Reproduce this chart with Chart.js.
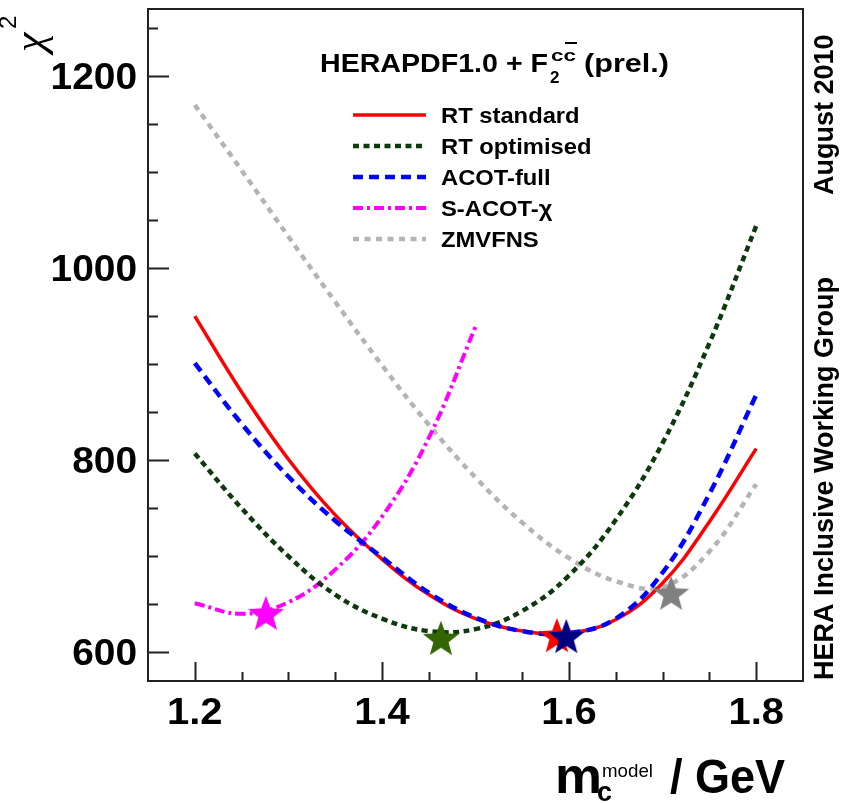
<!DOCTYPE html>
<html>
<head>
<meta charset="utf-8">
<title>HERAPDF1.0 chi2 vs charm mass</title>
<script src="https://cdn.jsdelivr.net/npm/chart.js@4.4.1/dist/chart.umd.min.js"></script>
<style>
  html, body { margin: 0; padding: 0; background: #fff; }
  #wrap { width: 842px; height: 803px; }
</style>
</head>
<body>
<div id="wrap"><canvas id="chi2Chart" width="842" height="803"></canvas></div>
<script>
const FONT = '"Liberation Sans", Arial, Helvetica, sans-serif';

// charm mass grid (GeV)
const mass = [1.2, 1.25, 1.3, 1.35, 1.4, 1.45, 1.5, 1.55, 1.6, 1.65, 1.7, 1.75, 1.8];
const rtStandard  = [950, 871, 801, 743, 697, 660, 635, 622, 620, 634, 672, 736, 812];
const rtOptimised = [807, 750, 700, 660, 635, 622, 624, 643, 680, 738, 818, 922, 1044];
const acotFull    = [901, 838, 783, 737, 699, 662, 636, 622, 620, 635, 683, 765, 868];
const zmvfns      = [1170, 1102, 1033, 965, 899, 837, 782, 735, 698, 674, 668, 705, 775];
// S-ACOT-chi only computed up to 1.5
const massSacot = [1.2, 1.25, 1.3, 1.35, 1.4, 1.45, 1.5];
const sacotChi  = [651, 640, 652, 686, 741, 823, 939];

// minima (stars)
const minLabels = ['ACOT-full', 'RT standard', 'RT optimised', 'S-ACOT-χ', 'ZMVFNS'];
const minMass   = [1.597, 1.587, 1.463, 1.276, 1.709];
const minChi2   = [616, 617, 614, 640, 661];

const xTicks = [1.2, 1.4, 1.6, 1.8];
const xTickLabels = ['1.2', '1.4', '1.6', '1.8'];
const yTicks = [600, 800, 1000, 1200];
const yTickLabels = ['600', '800', '1000', '1200'];

const pts = (xs, ys) => xs.map((x, i) => ({ x, y: ys[i] }));

function makeStar(fill, r) {
  const c = document.createElement('canvas');
  const s = Math.ceil(r * 2 + 2);
  c.width = s; c.height = s;
  const g = c.getContext('2d');
  g.fillStyle = fill;
  g.beginPath();
  for (let i = 0; i < 10; i++) {
    const rr = i % 2 ? r * 0.42 : r;
    const a = -Math.PI / 2 + i * Math.PI / 5;
    g.lineTo(s / 2 + rr * Math.cos(a), s / 2 + 1 + rr * Math.sin(a));
  }
  g.closePath();
  g.fill();
  return c;
}

const starColors = ['#000080', '#ff0000', '#336600', '#ff00ff', '#808080'];

const lineStyle = {
  'RT standard':  { color: '#ff0000', width: 3.5, dash: [] },
  'RT optimised': { color: '#0d3a0d', width: 4.5, dash: [6, 4.5] },
  'ACOT-full':    { color: '#0000ff', width: 4.5, dash: [10, 6] },
  'S-ACOT-χ':     { color: '#ff00ff', width: 4, dash: [10, 4, 3, 4] },
  'ZMVFNS':       { color: '#b4b4b4', width: 4.5, dash: [6, 5.5] }
};

function lineSet(label, xs, ys, order) {
  const st = lineStyle[label];
  return {
    label, order,
    data: pts(xs, ys),
    borderColor: st.color,
    borderWidth: st.width,
    borderDash: st.dash,
    borderCapStyle: 'butt',
    pointRadius: 0,
    tension: 0.4,
    fill: false
  };
}

const starSets = minLabels.map((l, i) => ({
  type: 'scatter',
  label: l + ' min',
  order: i === 0 ? 0 : 1,
  data: [{ x: minMass[i], y: minChi2[i] }],
  pointStyle: makeStar(starColors[i], 19),
  showLine: false
}));

function txt(ctx, s, x, y, size, opts = {}) {
  ctx.save();
  ctx.font = `${opts.style || ''} ${opts.weight || 'bold'} ${size}px ${opts.family || FONT}`;
  ctx.fillStyle = opts.color || '#000';
  ctx.textBaseline = opts.baseline || 'alphabetic';
  const w = ctx.measureText(s).width;
  const sx = opts.width ? opts.width / w : (opts.sx || 1);
  let x0 = x;
  if (opts.align === 'right') x0 = x - w * sx;
  else if (opts.align === 'center') x0 = x - w * sx / 2;
  ctx.translate(x0, y);
  if (opts.rot) ctx.rotate(opts.rot);
  ctx.scale(sx, 1);
  ctx.fillText(s, 0, 0);
  ctx.restore();
}

const decor = {
  id: 'decor',
  afterDatasetsDraw(chart) {
    const { ctx, chartArea: a, scales: { x, y } } = chart;
    ctx.save();
    ctx.strokeStyle = '#222';
    ctx.lineWidth = 2;
    ctx.strokeRect(a.left, a.top, a.right - a.left, a.bottom - a.top);
    ctx.beginPath();
    for (let v = 1.2; v <= 1.8001; v += 0.05) {
      const px = Math.round(x.getPixelForValue(v)) + 0.5;
      const major = xTicks.some(t => Math.abs(t - v) < 1e-6);
      ctx.moveTo(px, a.bottom);
      ctx.lineTo(px, a.bottom - (major ? 19 : 9));
    }
    for (let v = 600; v <= 1250; v += 50) {
      const py = Math.round(y.getPixelForValue(v)) + 0.5;
      const major = yTicks.includes(v);
      ctx.moveTo(a.left, py);
      ctx.lineTo(a.left + (major ? 21 : 10), py);
    }
    ctx.stroke();
    ctx.restore();
  },
  afterDraw(chart) {
    const { ctx, scales: { x, y } } = chart;
    // tick labels
    yTicks.forEach((v, i) => txt(ctx, yTickLabels[i], 137, y.getPixelForValue(v) + 13, 36, { align: 'right', sx: 1.08 }));
    xTicks.forEach((v, i) => txt(ctx, xTickLabels[i], x.getPixelForValue(v), 724, 37, { align: 'center', sx: 1.08 }));

    // axis titles
    txt(ctx, 'm', 555, 793, 50, { width: 47 });
    txt(ctx, 'c', 597, 801, 28, { width: 15 });
    txt(ctx, 'model', 602, 777, 19, { width: 51, weight: 'normal' });
    txt(ctx, '/ GeV', 670, 793, 48, { width: 115 });
    txt(ctx, 'χ', 44, 52, 44, { rot: -Math.PI / 2, weight: 'normal', style: 'italic', family: '"Liberation Serif", serif' });
    txt(ctx, '2', 16, 29, 24, { rot: -Math.PI / 2, weight: 'normal' });

    // right-hand annotations
    ctx.save();
    ctx.translate(833, 680);
    txt(ctx, 'HERA Inclusive Working Group', 0, 0, 27, { rot: -Math.PI / 2 });
    ctx.restore();
    ctx.save();
    ctx.translate(833, 195);
    txt(ctx, 'August 2010', 0, 0, 27, { rot: -Math.PI / 2 });
    ctx.restore();

    // legend header
    txt(ctx, 'HERAPDF1.0 + F', 320, 72, 25, { width: 228 });
    txt(ctx, '2', 550, 83, 17);
    txt(ctx, 'cc', 551, 61, 17, { width: 25 });
    ctx.save();
    ctx.fillStyle = '#000';
    ctx.fillRect(565, 42, 12, 2);
    ctx.restore();
    txt(ctx, '(prel.)', 584, 72, 25, { width: 85 });

    // legend entries
    const order = ['RT standard', 'RT optimised', 'ACOT-full', 'S-ACOT-χ', 'ZMVFNS'];
    order.forEach((lab, i) => {
      const st = lineStyle[lab];
      const ly = 115 + i * 31;
      ctx.save();
      ctx.strokeStyle = st.color;
      ctx.lineWidth = st.width;
      ctx.setLineDash(st.dash);
      ctx.beginPath();
      ctx.moveTo(353, ly);
      ctx.lineTo(426, ly);
      ctx.stroke();
      ctx.restore();
      txt(ctx, lab, 441, ly + 8, 22, { sx: 1.08 });
    });
  }
};

new Chart(document.getElementById('chi2Chart'), {
  type: 'line',
  data: {
    datasets: [
      ...starSets,
      lineSet('ACOT-full', mass, acotFull, 2),
      lineSet('RT standard', mass, rtStandard, 3),
      lineSet('RT optimised', mass, rtOptimised, 4),
      lineSet('S-ACOT-χ', massSacot, sacotChi, 5),
      lineSet('ZMVFNS', mass, zmvfns, 6)
    ]
  },
  options: {
    responsive: false,
    animation: false,
    layout: { padding: { left: 148, top: 9, right: 39, bottom: 122 } },
    scales: {
      x: { type: 'linear', min: 1.15, max: 1.85, display: false },
      y: { type: 'linear', min: 570, max: 1270, display: false }
    },
    plugins: {
      legend: { display: false },
      tooltip: { enabled: false }
    }
  },
  plugins: [decor]
});
</script>
</body>
</html>
